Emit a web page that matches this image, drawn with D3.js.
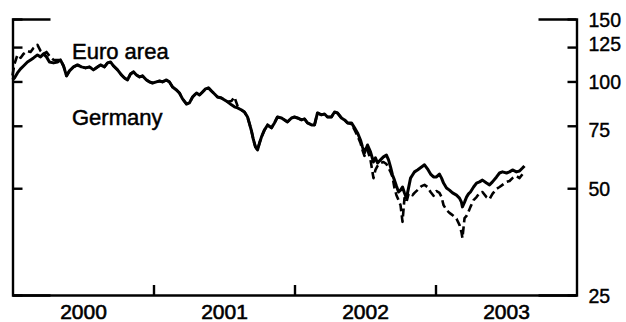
<!DOCTYPE html>
<html>
<head>
<meta charset="utf-8">
<script src="https://cdn.jsdelivr.net/npm/d3@7"></script>
<style>
  body { margin: 0; background: #fff; }
  svg { display: block; }
  text { font-family: "Liberation Sans", Arial, sans-serif; fill: #000; }
</style>
</head>
<body>
<svg id="chart" width="626" height="322"></svg>
<script>
// Time in fractional years (2000.0 = start of 2000)
const dates = [
  2000.000,2000.014,2000.035,2000.057,2000.078,2000.106,2000.128,2000.149,2000.177,2000.199,
  2000.220,2000.241,2000.262,2000.291,2000.319,2000.340,2000.362,2000.383,2000.404,2000.433,
  2000.461,2000.489,2000.518,2000.546,2000.574,2000.603,2000.624,2000.652,2000.674,2000.695,
  2000.716,2000.745,2000.773,2000.794,2000.816,2000.837,2000.858,2000.879,2000.901,2000.922,
  2000.950,2000.972,2000.993,2001.021,2001.043,2001.064,2001.092,2001.113,2001.135,2001.163,
  2001.184,2001.206,2001.234,2001.255,2001.277,2001.305,2001.326,2001.348,2001.369,2001.390,
  2001.411,2001.433,2001.454,2001.482,2001.504,2001.525,2001.553,2001.574,2001.596,2001.624,
  2001.645,2001.667,2001.681,2001.695,2001.709,2001.723,2001.738,2001.752,2001.766,2001.787,
  2001.809,2001.837,2001.858,2001.879,2001.908,2001.929,2001.950,2001.979,2002.000,2002.021,
  2002.050,2002.071,2002.092,2002.121,2002.142,2002.163,2002.191,2002.213,2002.234,2002.262,
  2002.284,2002.305,2002.333,2002.355,2002.376,2002.404,2002.426,2002.447,2002.468,2002.482,
  2002.496,2002.518,2002.539,2002.560,2002.574,2002.589,2002.610,2002.631,2002.652,2002.667,
  2002.681,2002.695,2002.709,2002.723,2002.738,2002.752,2002.766,2002.780,2002.794,2002.809,
  2002.823,2002.837,2002.851,2002.872,2002.901,2002.922,2002.943,2002.965,2002.986,2003.007,
  2003.028,2003.043,2003.057,2003.078,2003.099,2003.121,2003.149,2003.170,2003.184,2003.191,
  2003.206,2003.220,2003.234,2003.248,2003.270,2003.291,2003.312,2003.333,2003.362,2003.383,
  2003.404,2003.433,2003.454,2003.475,2003.504,2003.525,2003.546,2003.574,2003.596,2003.617,
  2003.631
];

// Stock price indices (log scale)
const euroArea = [
  101.0,102.3,105.7,108.5,110.6,113.5,115.0,116.5,118.8,117.3,
  119.6,117.3,113.5,112.8,113.5,115.0,110.6,103.7,107.1,109.9,
  111.3,109.9,109.2,109.9,107.8,109.9,111.3,109.9,112.8,113.5,
  110.6,107.8,104.3,102.3,101.0,105.0,106.4,104.3,103.0,103.7,
  101.0,99.7,99.0,99.7,100.3,99.7,101.0,99.7,96.5,94.6,
  92.8,89.3,86.4,87.0,90.4,92.8,91.6,93.4,95.3,95.9,
  94.0,92.2,90.4,89.8,88.7,87.6,85.9,84.8,84.2,83.1,
  82.0,79.4,75.9,72.5,68.4,65.4,64.1,67.1,69.8,73.0,
  75.4,74.0,76.4,79.4,78.9,77.9,76.9,78.9,79.4,78.9,
  77.9,78.4,76.4,75.4,75.4,81.5,80.5,81.0,79.4,79.4,
  82.0,81.5,78.9,77.9,76.4,76.4,74.0,71.6,68.4,65.4,
  62.9,66.2,63.3,59.3,60.9,58.9,60.1,61.3,62.0,60.1,
  57.4,54.5,52.7,50.7,48.8,49.4,50.4,48.5,46.9,50.1,
  53.4,54.5,55.6,56.3,57.4,58.2,56.7,54.8,53.8,53.8,
  54.8,53.4,51.7,50.1,49.4,48.5,47.8,46.9,45.7,44.3,
  45.7,47.2,48.2,48.8,50.4,51.7,52.1,52.7,51.7,51.1,
  52.1,53.8,55.2,55.6,55.2,55.6,56.3,55.6,55.9,57.0,
  57.8
];

const germany = [
  104.0,112.0,118.8,116.5,119.6,121.9,121.1,124.3,126.8,121.9,
  119.6,121.1,118.0,115.0,115.0,115.0,110.6,103.7,107.1,109.9,
  111.3,109.9,109.2,109.9,107.8,109.9,111.3,109.9,112.8,113.5,
  110.6,107.8,104.3,102.3,101.0,105.0,106.4,104.3,103.0,103.7,
  101.0,99.7,99.0,99.7,100.3,99.7,101.0,99.7,96.5,94.6,
  92.8,89.3,86.4,87.0,90.4,92.8,91.6,93.4,95.3,95.9,
  94.0,92.2,90.4,89.8,88.7,87.6,88.1,90.4,85.3,83.1,
  82.0,79.4,75.9,72.5,68.4,65.4,64.1,67.1,69.8,73.0,
  75.4,74.0,76.4,79.4,78.9,77.9,76.9,78.9,79.4,78.9,
  77.9,78.4,76.4,75.4,75.4,81.5,80.5,81.0,79.4,79.4,
  82.0,81.5,78.9,77.9,76.4,75.9,73.0,70.2,67.1,64.1,
  61.7,64.1,60.1,53.4,56.3,57.8,58.9,59.3,58.5,57.0,
  55.6,53.8,50.1,47.8,46.3,44.8,40.2,46.9,45.7,48.2,
  48.5,47.8,48.5,49.4,50.7,51.1,50.4,48.8,47.6,49.1,
  48.5,47.2,44.8,43.4,42.6,42.0,41.0,39.4,37.6,36.2,
  41.2,41.8,42.9,44.3,46.3,47.2,48.5,48.8,47.2,46.6,
  48.2,49.8,50.4,51.1,52.1,52.4,53.4,54.1,53.4,54.8,
  55.6
];

const yTicks = [25, 50, 75, 100, 125, 150];
const yearTicks = [2001, 2002, 2003];
const yearLabels = ["2000", "2001", "2002", "2003"];
const seriesLabels = ["Euro area", "Germany"];

const svg = d3.select("#chart");
const xL = 12.5, xR = 576.5, yT = 19, yB = 295;

const x = d3.scaleLinear().domain([2000, 2004]).range([xL, xR]);
const y = d3.scaleLog().domain([25, 150]).range([yB, yT]);

const axisStroke = g => {
  g.selectAll("path, line").attr("stroke", "#000").attr("stroke-width", 2.4);
};

// Left axis: inward ticks, no labels, long cap at the top
svg.append("g")
  .attr("transform", `translate(${xL},0)`)
  .call(d3.axisLeft(y).tickValues(yTicks).tickSizeInner(-10).tickSizeOuter(-38).tickFormat(""))
  .call(axisStroke);

// Right axis: inward ticks, labels on the outside
const labelShift = { 125: -4, 75: 4 };
const rightAxis = svg.append("g")
  .attr("transform", `translate(${xR},0)`)
  .call(d3.axisRight(y).tickValues(yTicks).tickSizeInner(-9).tickSizeOuter(-38)
        .tickPadding(12).tickFormat(d3.format("d")))
  .call(axisStroke);
rightAxis.selectAll("text")
  .attr("font-size", 19.5)
  .attr("font-family", "Liberation Sans, Arial, sans-serif")
  .attr("stroke", "#000").attr("stroke-width", 0.4)
  .attr("y", d => labelShift[d] || 0)
  .attr("dy", "0.36em");

// Bottom axis: year boundaries
svg.append("g")
  .attr("transform", `translate(0,${yB})`)
  .call(d3.axisBottom(x).tickValues(yearTicks).tickSizeInner(-10).tickSizeOuter(0).tickFormat(""))
  .call(axisStroke);

// Year labels centred within each year
const yearAxis = svg.append("g")
  .attr("transform", `translate(0,${yB})`)
  .call(d3.axisBottom(x).tickValues(yearLabels.map(d => +d + 0.5))
        .tickSize(0).tickPadding(9).tickFormat((d, i) => yearLabels[i]));
yearAxis.select(".domain").remove();
yearAxis.selectAll("text")
  .attr("font-size", 21)
  .attr("font-family", "Liberation Sans, Arial, sans-serif")
  .attr("stroke", "#000").attr("stroke-width", 0.6);

// Series lines
const line = d3.line()
  .x((d, i) => x(dates[i]))
  .y(d => y(d));

svg.append("path")
  .datum(germany)
  .attr("d", line)
  .attr("fill", "none")
  .attr("stroke", "#000")
  .attr("stroke-width", 2.6)
  .attr("stroke-dasharray", "8,4")
  .attr("stroke-linejoin", "round");

svg.append("path")
  .datum(euroArea)
  .attr("d", line)
  .attr("fill", "none")
  .attr("stroke", "#000")
  .attr("stroke-width", 3)
  .attr("stroke-linejoin", "round");

// Series labels
svg.append("text")
  .attr("x", 72).attr("y", 58.5)
  .attr("font-size", 22)
  .attr("stroke", "#000").attr("stroke-width", 0.5)
  .text(seriesLabels[0]);

svg.append("text")
  .attr("x", 72).attr("y", 124.5)
  .attr("font-size", 22)
  .attr("stroke", "#000").attr("stroke-width", 0.5)
  .text(seriesLabels[1]);
</script>
</body>
</html>
